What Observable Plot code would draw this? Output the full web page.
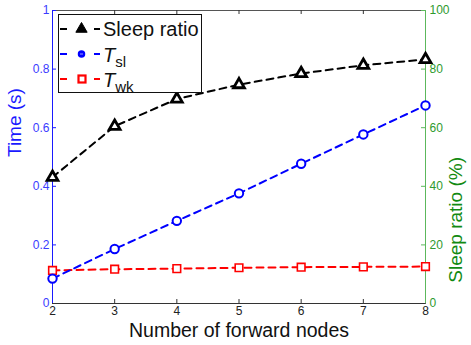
<!DOCTYPE html>
<html>
<head>
<meta charset="utf-8">
<script src="https://cdn.jsdelivr.net/npm/d3@7"></script>
<script src="https://cdn.jsdelivr.net/npm/@observablehq/plot@0.6"></script>
<style>
  html, body { margin: 0; padding: 0; background: #fff; }
  #chart { width: 471px; height: 345px; }
  svg { font-family: "Liberation Sans", Arial, sans-serif; }
</style>
</head>
<body>
<div id="chart"></div>
<script>
// ---- data ----
const nodes = [2, 3, 4, 5, 6, 7, 8];
const sleepRatio = [43.1, 60.5, 69.8, 74.7, 78.5, 81.3, 83.3];   // %
const tSl = [0.085, 0.186, 0.282, 0.376, 0.477, 0.577, 0.676];    // s
const tWk = [0.113, 0.117, 0.119, 0.122, 0.124, 0.125, 0.126];    // s
const xTicks = [2, 3, 4, 5, 6, 7, 8];
const leftTicks = [0, 0.2, 0.4, 0.6, 0.8, 1];
const rightTicks = [0, 20, 40, 60, 80, 100];

const rows = nodes.map((n, i) => ({n, sleep: sleepRatio[i], tsl: tSl[i], twk: tWk[i]}));

const W = 471, H = 345;
const mL = 52, mR = 46, mT = 10, mB = 42;
const fw = W - mL - mR, fh = H - mT - mB;
const tick = 4;
const blue = "#1a1aff", blueLab = "#3b3bff", green = "#5cb85c", greenLab = "#2e9a2e", greenTitle = "#128a12";
const dash = "7,5";

const chart = Plot.plot({
  width: W, height: H,
  marginLeft: mL, marginRight: mR, marginTop: mT, marginBottom: mB,
  style: {fontFamily: "Liberation Sans, Arial, sans-serif", background: "white"},
  x: {domain: [xTicks[0], xTicks[xTicks.length - 1]]},
  y: {domain: [leftTicks[0], leftTicks[leftTicks.length - 1]]},
  marks: [
    Plot.frame({stroke: "#555"}),
    // inward ticks
    Plot.tickX(xTicks, {x: d => d, insetTop: fh - tick, stroke: "#333"}),
    Plot.tickX(xTicks, {x: d => d, insetBottom: fh - tick, stroke: "#333"}),
    Plot.tickY(leftTicks, {y: d => d, insetRight: fw - tick, stroke: blue}),
    Plot.tickY(rightTicks, {y: d => d / 100, insetLeft: fw - tick, stroke: green}),
    // axis lines
    Plot.ruleY([leftTicks[0]], {stroke: "#333"}),
    Plot.ruleX([xTicks[0]], {stroke: blue}),
    Plot.ruleX([xTicks[xTicks.length - 1]], {stroke: green}),
    // tick labels
    Plot.axisX(xTicks, {tickSize: 0, tickPadding: 3, fontSize: 12, fill: "#222", label: null}),
    Plot.axisY(leftTicks, {anchor: "left", tickSize: 0, tickPadding: 3, fontSize: 12, fill: blueLab,
      tickFormat: d => (d === 0 || d === 1) ? String(d) : d.toFixed(1), label: null}),
    Plot.axisY(rightTicks.map(d => d / 100), {anchor: "right", tickSize: 0, tickPadding: 4, fontSize: 12, fill: greenLab,
      tickFormat: d => String(Math.round(d * 100)), label: null}),
    // axis titles
    Plot.text(["Time (s)"], {frameAnchor: "left", dx: -38, rotate: -90, fontSize: 19, fill: blue}),
    Plot.text(["Sleep ratio (%)"], {frameAnchor: "right", dx: 30, rotate: -90, fontSize: 19, fill: greenTitle}),
    Plot.text(["Number of forward nodes"], {frameAnchor: "bottom", dy: 33, fontSize: 19.5, fill: "#111"}),
    // series
    Plot.line(rows, {x: "n", y: d => d.twk, stroke: "#ff0000", strokeWidth: 2, strokeDasharray: dash}),
    Plot.line(rows, {x: "n", y: d => d.tsl, stroke: "#0000ff", strokeWidth: 2, strokeDasharray: dash}),
    Plot.line(rows, {x: "n", y: d => d.sleep / 100, stroke: "black", strokeWidth: 2, strokeDasharray: dash}),
    Plot.dot(rows, {x: "n", y: d => d.twk, symbol: "square", r: 4.3, stroke: "#ff0000", strokeWidth: 1.6, fill: "white"}),
    Plot.dot(rows, {x: "n", y: d => d.tsl, symbol: "circle", r: 4.2, stroke: "#0000ff", strokeWidth: 2, fill: "white"}),
    Plot.dot(rows, {x: "n", y: d => d.sleep / 100, symbol: "triangle", r: 4, stroke: "black", strokeWidth: 2.8, fill: "white"})
  ]
});

document.getElementById("chart").appendChild(chart);

// ---- legend (inside the plot, upper left) ----
const svg = d3.select(chart);
const lg = svg.append("g").attr("class", "legend").attr("text-anchor", "start");
lg.append("rect").attr("x", 58.5).attr("y", 14.5).attr("width", 143).attr("height", 78)
  .attr("fill", "white").attr("stroke", "#111").attr("stroke-width", 1);

const entries = [
  {c: "black", y: 29, sym: "triangle", label: "Sleep ratio", base: 36},
  {c: "#0000ff", y: 54, sym: "circle", main: "T", sub: "sl", base: 62},
  {c: "#ff0000", y: 79, sym: "square", main: "T", sub: "wk", base: 87}
];
entries.forEach(e => {
  lg.append("line").attr("x1", 60).attr("x2", 67).attr("y1", e.y).attr("y2", e.y)
    .attr("stroke", e.c).attr("stroke-width", 2);
  lg.append("line").attr("x1", 94).attr("x2", 100).attr("y1", e.y).attr("y2", e.y)
    .attr("stroke", e.c).attr("stroke-width", 2);
  if (e.sym === "triangle") {
    lg.append("path").attr("d", d3.symbol(d3.symbolTriangle, 55)())
      .attr("transform", `translate(81.5,${e.y})`).attr("fill", "black").attr("stroke", "black").attr("stroke-width", 1);
  } else if (e.sym === "circle") {
    lg.append("circle").attr("cx", 81.5).attr("cy", e.y).attr("r", 3)
      .attr("fill", "#0000ff").attr("stroke", "#0000ff").attr("stroke-width", 1.5);
    lg.append("line").attr("x1", 80).attr("x2", 83).attr("y1", e.y).attr("y2", e.y).attr("stroke", "#9999ff").attr("stroke-width", 1);
  } else {
    lg.append("rect").attr("x", 78.5).attr("y", e.y - 3.5).attr("width", 7).attr("height", 7)
      .attr("fill", "white").attr("stroke", "#ff0000").attr("stroke-width", 2.2);
  }
  const t = lg.append("text").attr("x", 103).attr("y", e.base).attr("font-size", 20)
    .attr("text-anchor", "start").attr("fill", "#111");
  if (e.label) {
    t.text(e.label);
  } else {
    t.append("tspan").attr("font-style", "italic").text(e.main);
    t.append("tspan").attr("font-size", 15).attr("dy", 5).text(e.sub);
  }
});
</script>
</body>
</html>
